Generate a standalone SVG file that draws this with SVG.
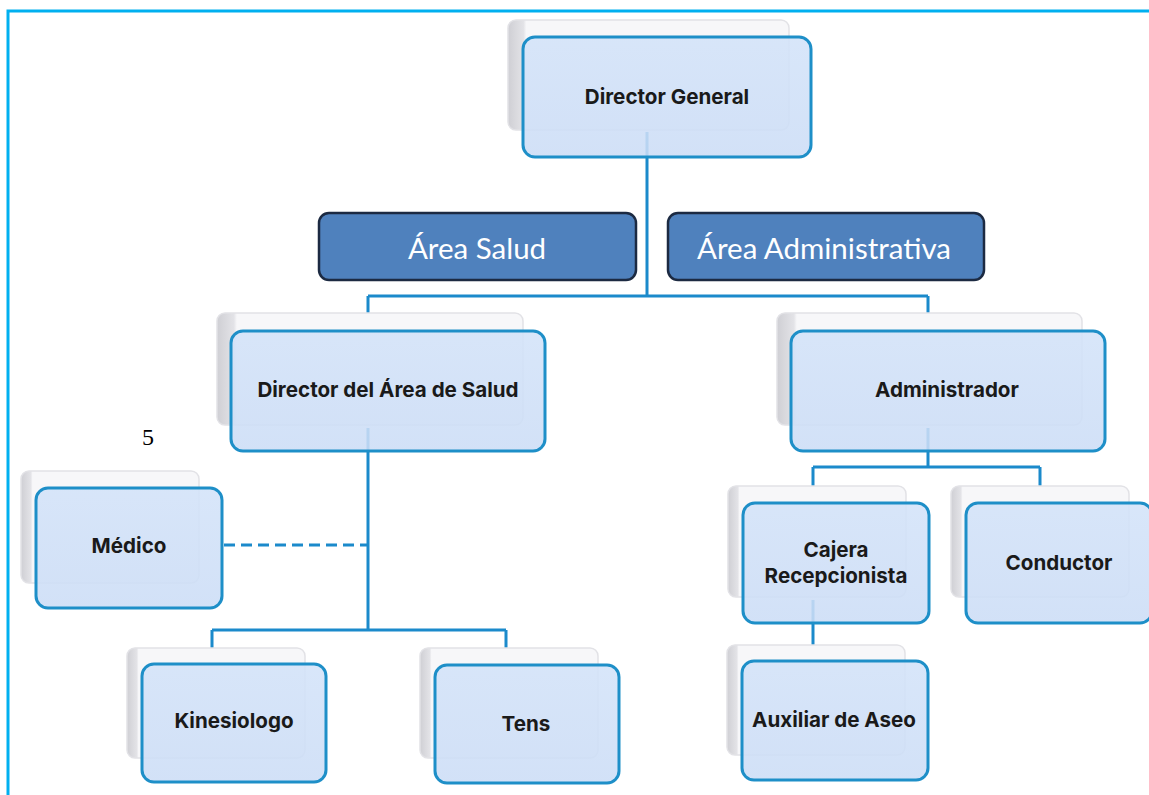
<svg xmlns="http://www.w3.org/2000/svg" width="1149" height="795" viewBox="0 0 1149 795">
  <defs>
    <linearGradient id="backFill" x1="0" y1="0" x2="1" y2="0">
      <stop offset="0" stop-color="#CFCFD4"/>
      <stop offset="0.055" stop-color="#E3E3E7"/>
      <stop offset="0.065" stop-color="#F7F7F9"/>
      <stop offset="1" stop-color="#F7F7F9"/>
    </linearGradient>
    <linearGradient id="frontFill" x1="0" y1="0" x2="0" y2="1">
      <stop offset="0" stop-color="#D3E3F9"/>
      <stop offset="1" stop-color="#CCDDF6"/>
    </linearGradient>
  </defs>
  <style>
    .frame { fill: none; stroke: #00B0F0; stroke-width: 3; }
    .back { fill: url(#backFill); stroke: #E2E2E6; stroke-width: 1.5; }
    .front { fill: url(#frontFill); fill-opacity: 0.88; stroke: #1E8FC8; stroke-width: 3; }
    .area { fill: #4F81BD; stroke: #1C2A42; stroke-width: 2.5; }
    .lbl { font-family: Inter, Roboto, "Liberation Sans", sans-serif; font-weight: 700; font-size: 20.6px; fill: #1A1A1A; text-anchor: middle; }
    .alb { font-family: Lato, "Open Sans", sans-serif; font-size: 29.5px; fill: #FFFFFF; text-anchor: middle; }
    .conn { fill: none; stroke: #1B8ACB; stroke-width: 3; }
    .dash { stroke-dasharray: 11 6; }
    .pg { font-family: "Liberation Serif", serif; font-size: 24px; fill: #000; }
  </style>

  <rect class="frame" x="8" y="11" width="1200" height="900"/>

  <!-- reporting lines -->
  <g id="connectors">
    <path class="conn" d="M647 132 V296 M368 296 H928 M368 296 V318 M928 296 V318"/>
    <path class="conn" d="M368 428 V630 M212 630 H506 M212 630 V652 M506 630 V652"/>
    <path class="conn dash" d="M224 545 H368"/>
    <path class="conn" d="M928 428 V467 M813 467 H1040 M813 467 V490 M1040 467 V490"/>
    <path class="conn" d="M813 600 V648"/>
  </g>

  <g id="director-general">
    <rect class="back" x="508" y="20" width="281" height="110" rx="8"/>
    <rect class="front" x="523" y="37" width="288" height="120" rx="12"/>
    <text class="lbl" x="667" y="104">Director General</text>
  </g>

  <g id="area-salud">
    <rect class="area" x="319" y="213" width="317" height="67" rx="10"/>
    <text class="alb" x="477" y="259">Área Salud</text>
  </g>

  <g id="area-administrativa">
    <rect class="area" x="668" y="213" width="316" height="67" rx="10"/>
    <text class="alb" x="824" y="259">Área Administrativa</text>
  </g>

  <g id="director-area-salud">
    <rect class="back" x="217" y="313" width="306" height="112" rx="8"/>
    <rect class="front" x="231" y="331" width="314" height="120" rx="12"/>
    <text class="lbl" x="388" y="397">Director del Área de Salud</text>
  </g>

  <g id="administrador">
    <rect class="back" x="777" y="313" width="305" height="112" rx="8"/>
    <rect class="front" x="791" y="331" width="314" height="120" rx="12"/>
    <text class="lbl" x="947" y="397">Administrador</text>
  </g>

  <text class="pg" x="142" y="445">5</text>

  <g id="medico">
    <rect class="back" x="21" y="471" width="178" height="112" rx="8"/>
    <rect class="front" x="36" y="488" width="186" height="120" rx="12"/>
    <text class="lbl" x="129" y="553">Médico</text>
  </g>

  <g id="kinesiologo">
    <rect class="back" x="127" y="648" width="178" height="110" rx="8"/>
    <rect class="front" x="142" y="664" width="184" height="118" rx="12"/>
    <text class="lbl" x="234" y="728">Kinesiologo</text>
  </g>

  <g id="tens">
    <rect class="back" x="420" y="648" width="178" height="110" rx="8"/>
    <rect class="front" x="435" y="665" width="184" height="118" rx="12"/>
    <text class="lbl" x="526" y="731">Tens</text>
  </g>

  <g id="cajera-recepcionista">
    <rect class="back" x="728" y="486" width="178" height="111" rx="8"/>
    <rect class="front" x="743" y="503" width="186" height="120" rx="12"/>
    <text class="lbl" x="836" y="557">Cajera</text>
    <text class="lbl" x="836" y="583">Recepcionista</text>
  </g>

  <g id="conductor">
    <rect class="back" x="951" y="486" width="178" height="111" rx="8"/>
    <rect class="front" x="966" y="503" width="186" height="120" rx="12"/>
    <text class="lbl" x="1059" y="570">Conductor</text>
  </g>

  <g id="auxiliar-aseo">
    <rect class="back" x="727" y="645" width="178" height="110" rx="8"/>
    <rect class="front" x="742" y="661" width="186" height="119" rx="12"/>
    <text class="lbl" x="834" y="727">Auxiliar de Aseo</text>
  </g>
</svg>
